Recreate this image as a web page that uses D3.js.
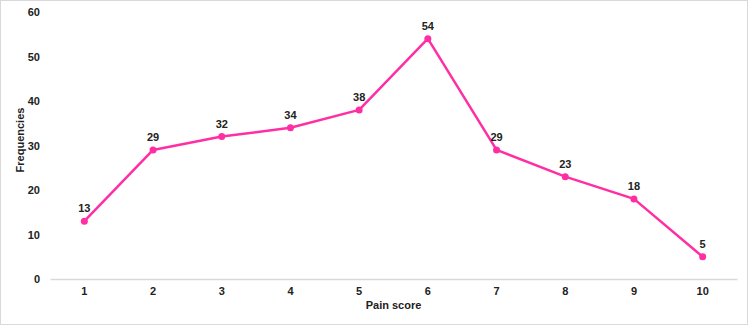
<!DOCTYPE html>
<html>
<head>
<meta charset="utf-8">
<script src="https://cdn.jsdelivr.net/npm/d3@7"></script>
<style>
  body { margin: 0; background: #fff; }
  svg { display: block; font-family: "Liberation Sans", Arial, sans-serif; }
</style>
</head>
<body>
<svg id="chart"></svg>
<script>
// pain scores and how often each was reported
var painScores = ["1", "2", "3", "4", "5", "6", "7", "8", "9", "10"];
var frequencies = [13, 29, 32, 34, 38, 54, 29, 23, 18, 5];
var yTicks = [0, 10, 20, 30, 40, 50, 60];

var width = 750, height = 327;
var margin = { top: 12, right: 13, bottom: 48, left: 50 };

var svg = d3.select('#chart')
    .attr('width', width)
    .attr('height', height);

// outer frame
svg.append('rect')
    .attr('x', 0.5).attr('y', 0.5)
    .attr('width', width - 3).attr('height', height - 3)
    .attr('fill', '#fff')
    .attr('stroke', '#d9d9d9');

var xScale = d3.scaleBand().domain(painScores).range([margin.left, width - margin.right]);
var yScale = d3.scaleLinear().domain([0, 60]).range([height - margin.bottom, margin.top]);

// x axis
var xAxis = d3.axisBottom(xScale).tickSize(0).tickPadding(8);
var gx = svg.append('g')
    .attr('transform', 'translate(0,' + yScale(0) + ')')
    .call(xAxis);
gx.select('.domain').attr('stroke', '#d9d9d9').attr('stroke-width', 1.5);

// y axis, labels only
var yAxis = d3.axisLeft(yScale).tickValues(yTicks).tickSize(0).tickPadding(10);
var gy = svg.append('g')
    .attr('transform', 'translate(' + margin.left + ',0)')
    .call(yAxis);
gy.select('.domain').remove();

svg.selectAll('.tick text')
    .attr('font-size', '11px')
    .attr('font-weight', 'bold')
    .attr('fill', '#222')
    .attr('font-family', '"Liberation Sans", Arial, sans-serif');

// axis titles
svg.append('text')
    .attr('x', (margin.left + width - margin.right) / 2)
    .attr('y', 309)
    .attr('text-anchor', 'middle')
    .attr('font-size', '11px')
    .attr('font-weight', 'bold')
    .attr('fill', '#222')
    .text('Pain score');

svg.append('text')
    .attr('transform', 'translate(' + [24, 140] + ') rotate(270)')
    .attr('text-anchor', 'middle')
    .attr('font-size', '11px')
    .attr('font-weight', 'bold')
    .attr('fill', '#222')
    .text('Frequencies');

var data = painScores.map(function(p, i) { return { score: p, freq: frequencies[i] }; });
var cx = function(d) { return xScale(d.score) + xScale.bandwidth() / 2; };

var line = d3.line()
    .x(cx)
    .y(function(d) { return yScale(d.freq); });

svg.append('path')
    .datum(data)
    .attr('d', line)
    .attr('fill', 'none')
    .attr('stroke', '#ff2fa3')
    .attr('stroke-width', 2.5)
    .attr('stroke-linejoin', 'round');

svg.selectAll('.dot')
    .data(data)
    .enter()
    .append('circle')
    .attr('class', 'dot')
    .attr('cx', cx)
    .attr('cy', function(d) { return yScale(d.freq); })
    .attr('r', 3.5)
    .attr('fill', '#ff2fa3');

svg.selectAll('.val')
    .data(data)
    .enter()
    .append('text')
    .attr('class', 'val')
    .attr('x', cx)
    .attr('y', function(d) { return yScale(d.freq) - 9; })
    .attr('text-anchor', 'middle')
    .attr('font-size', '11px')
    .attr('font-weight', 'bold')
    .attr('fill', '#222')
    .text(function(d) { return d.freq; });
</script>
</body>
</html>
